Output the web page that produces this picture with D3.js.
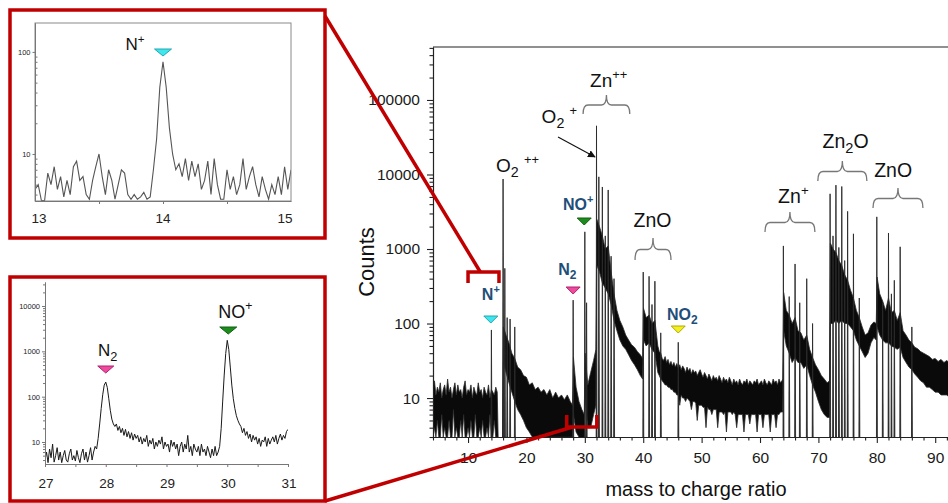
<!DOCTYPE html>
<html><head><meta charset="utf-8">
<script src="https://cdn.jsdelivr.net/npm/d3@7"></script>
<style>
body{margin:0;background:#fff}
svg{display:block}
text{font-family:"Liberation Sans",Arial,sans-serif}
</style>
</head><body>
<svg id="c" width="948" height="503"></svg>
<script>
// ---------------- DATA ----------------
// Main spectrum: dense noise band (lower / upper envelope)
const bandMass = [
 4,4.25,4.5,4.75,5,5.25,5.5,5.75,6,6.25,
 6.5,6.75,7,7.25,7.5,7.75,8,8.25,8.5,8.75,
 9,9.25,9.5,9.75,10,10.25,10.5,10.75,11,11.25,
 11.5,11.75,12,12.25,12.5,12.75,13,13.25,13.5,13.75,
 14,14.25,14.5,14.75,15,
 15.2,15.9,16.05,16.5,17,17.5,18,18.5,19,19.5,
 20,20.5,21,21.5,22,22.5,23,23.5,24,24.5,
 25,25.5,26,26.5,27,27.5,27.9,
 28.05,28.5,29,29.5,29.9,30.05,30.5,31,31.5,31.9,
 32.05,32.5,33,33.5,34,34.5,35,35.5,36,36.5,
 37,37.5,38,38.5,39,39.5,39.9,40.05,40.5,41,
 41.5,42,
 42.5,42.75,43,43.25,43.5,43.75,44,44.25,44.5,44.75,
 45,45.25,45.5,45.75,46,46.25,46.5,46.75,47,47.25,
 47.5,47.75,48,48.25,48.5,48.75,49,49.25,49.5,49.75,
 50,50.25,50.5,50.75,51,51.25,51.5,51.75,52,52.25,
 52.5,52.75,53,53.25,53.5,53.75,54,54.25,54.5,54.75,
 55,55.25,55.5,55.75,56,56.25,56.5,56.75,57,57.25,
 57.5,57.75,58,58.25,58.5,58.75,59,59.25,59.5,59.75,
 60,60.25,60.5,60.75,61,61.25,61.5,61.75,62,62.25,
 62.5,62.75,63,63.25,63.5,63.75,63.9,
 64.05,64.5,65,65.5,
 66,66.5,67,67.5,68,68.5,69,69.5,70,70.5,
 71,71.5,71.9,72.05,72.5,73,73.5,74,74.5,75,
 75.5,76,76.5,77,77.5,78,78.5,79,79.5,79.9,
 80.05,80.5,81,81.5,82,82.5,83,83.5,84,84.5,
 85,85.5,86,86.5,87,87.5,88,88.5,89,89.5,
 90,90.5,91,91.5,92,92.5,93,93.5,94,95,
 96,97,98,99,100];
const bandLow = [
 3,4,3,5,3,3,6,3,4,3,
 3,5,3,3,7,3,4,3,3,5,
 3,6,3,3,4,3,5,3,3,6,
 3,3,4,3,5,3,3,4,3,6,
 3,3,5,3,3,
 2,2,30,22,16,12,9,7,6,5,
 4,3.5,3,3,3,3,3,3,3,3,
 3,3,3,3,3,3,3,
 6,3.5,3,2.5,2.5,10,4,4,6,8,
 600,500,350,300,250,180,110,80,60,50,
 45,38,32,28,24,20,18,60,50,55,
 45,40,
 22,20,18,17,16,15,15,14,14,13,
 13,12,12,11,11,8,11,10,10,9,
 10,9.5,9,7,9,9,8.5,5,8,8,
 8,7.5,7.5,4,7.5,7,7,6,7,7,
 7,4,6.5,6.5,6.5,6,6.5,3.5,6.5,6.5,
 6.5,6,6.5,6,4,6,6,6,6,3.5,
 6,6,6,4.5,6,6,6,6,3.5,6,
 6,6,4,6,6,6,6,3.5,6,6,
 6,4,6,6,6.5,6.5,6.5,
 80,50,40,30,
 35,30,30,25,28,20,15,12,9,7,
 6,5.5,5.5,100,100,110,100,110,100,100,
 90,80,60,50,42,35,40,55,65,60,
 90,70,60,55,55,50,48,45,48,35,
 30,26,24,21,19,17,16,14,14,13,
 12,12,11,11,11,10,10,10,10,10,
 9.5,9.5,9,9,9];
const bandHigh = [
 13,17,11,14,12,16,10,13,15,11,
 18,12,14,10,13,16,11,15,12,13,
 10,14,17,11,13,12,15,10,14,12,
 11,16,12,13,10,14,12,11,15,10,
 13,12,11,14,12,
 2,2,90,70,55,40,34,26,24,20,
 19,15,16,13,14,12,13,11,13,10,
 12,10,11,9.5,11,9,8,
 35,14,9,7,6,40,15,22,32,45,
 2500,2000,1500,1000,1100,500,250,150,110,90,
 70,60,52,48,42,38,34,160,120,130,
 100,110,
 50,42,40,34,32,36,30,33,28,31,
 27,30,26,29,25,28,24,27,25,22,
 26,23,25,21,24,22,23,20,22,24,
 21,19,22,20,18,21,19,17,20,18,
 19,17,20,18,16,19,17,18,16,19,
 17,15,18,16,17,15,18,16,15,17,
 16,18,15,17,16,15,17,16,18,15,
 16,17,15,18,16,15,17,16,15,18,
 16,17,15,18,16,17,18,
 260,150,130,100,
 120,80,75,60,70,45,35,28,24,20,
 18,16,17,1200,1000,900,700,600,450,380,
 280,220,150,120,90,70,75,95,105,100,
 420,250,200,150,220,140,150,110,140,80,
 70,60,55,48,46,42,40,38,36,33,
 34,31,33,30,32,29,31,28,30,29,
 28,28,27,27,26];

// Main spectrum: individual peaks (m/z, counts)
const peakMass = [14,16,16.3,16.7,17.2,18, 28,30,30.3, 32,32.4,33,33.5,34,34.5,35,
  40,41,41.5,42,43, 46, 64,65,66,66.8,68,69, 72,72.5,73,73.5,74,74.5,75,76,77,
  80,81,82,82.5,83,84,86];
const peakCounts = [82,8700,550,120,115,90, 206,1700,190, 45000,9300,6800,1500,6200,800,400,
  490,430,180,370,75, 56, 1100,230,630,190,400,100, 5500,1500,7200,1050,6900,700,3200,1600,220,
  2700,190,1640,250,380,1070,90];

// Tick values
const mainXTicks = [10,20,30,40,50,60,70,80,90];
const mainYTicks = [10,100,1000,10000,100000];

// Inset 1 (N+ region, m/z 13-15), sampled every 0.025
const inset1Start = 13, inset1Step = 0.025;
const inset1Counts = [
 4.5,5,3.5,3.5,6.5,5,7.5,4.5,6,3.8,
 5.5,4,7.5,8.5,5.5,6,4,3.6,5.5,7.5,
 10,6,4,7,5.5,3.6,5,7,6.5,4,
 3.6,4,3.6,3.8,4.2,3.6,3.8,7,14,45,
 80,45,18,10,7,8,6,9,5.5,8.5,
 6,8,4.5,5.5,8.5,4,9,5,3.6,3.6,
 7,4.5,6,4,5,9,4.5,6,7.5,5,
 3.8,6,4.5,3.6,5,4,6,4,7.5,4.5,
 7];
const inset1XTicks = [13,14,15];
const inset1YTicks = [10,100];

// Inset 2 (N2 / NO+ region, m/z 27-31), sampled every 0.025
const inset2Start = 27, inset2Step = 0.025;
const inset2Counts = [
 4,6,3.5,7,4.5,9,3.6,5,7.5,4,
 6,3.5,5,6.5,4,3.6,5.5,7,4,5,
 3.8,6.5,4.5,3.5,5.5,7,4,6,3.6,5,
 7.5,4,6,8,7,12,25,55,110,180,
 210,160,90,50,32,25,22,25,18,22,
 16,20,14,19,13,17,12,16,11,15,
 12,14,10,13,9,12,10,14,8,11,
 9,12,7,10,8,11,9,13,7,10,
 8,9,6,11,8,10,7,9,5,8,
 10,6,9,7,14,6,8,5,9,7,
 6,8,5,9,6,7,5,8,6,4.5,
 7,5,8,5,6,8,20,80,300,900,
 1750,1100,450,180,90,55,38,30,25,22,
 16,20,14,17,12,15,10,14,11,13,
 9,12,8,11,10,13,8,12,9,11,
 13,10,14,9,12,15,11,14,12,17,
 19];
const inset2XTicks = [27,28,29,30,31];
const inset2YTicks = [10,100,1000,10000];

// ---------------- DRAW ----------------
const svg = d3.select("#c");
const RED = "#c00000", BLUE = "#1f4e79";
const defs = svg.append("defs");

// ---- main chart scales
const x = d3.scaleLinear().domain([4,100]).range([433, 993.6]);
const y = d3.scaleLog().domain([3, 514000]).range([437, 47]);
defs.append("clipPath").attr("id","mainclip").append("rect")
  .attr("x",433).attr("y",47).attr("width",520).attr("height",390);

const plot = svg.append("g").attr("clip-path","url(#mainclip)");
const band = d3.area()
  .x((d,i)=>x(bandMass[i]))
  .y0((d,i)=>y(bandLow[i]))
  .y1((d,i)=>y(bandHigh[i]));
plot.append("path").datum(bandMass).attr("d",band)
  .attr("fill","#0a0a0a").attr("stroke","#2a2a2a").attr("stroke-width",0.8);

plot.selectAll("path.pk").data(peakMass).enter().append("path").attr("class","pk")
  .attr("d",(m,i)=>`M${x(m-0.06)},${y(3)}L${x(m)},${y(peakCounts[i])}L${x(m+0.09)},${y(3)}Z`)
  .attr("fill","#151515").attr("stroke","#2a2a2a").attr("stroke-width",0.9);

// ---- main axes
const axisStyle = g => {
  g.selectAll("text").style("font-size","15.5px").attr("fill","#1a1a1a")
   .style("font-family","'Liberation Sans',Arial,sans-serif");
  g.selectAll("line,path").attr("stroke","#222").attr("stroke-width",1.1);
};
const yMinor = y.ticks().filter(v => !mainYTicks.includes(v));
svg.append("g").attr("transform","translate(433,0)")
  .call(d3.axisLeft(y).tickValues(yMinor).tickSize(3.5).tickFormat("").tickSizeOuter(0)).call(axisStyle);
svg.append("g").attr("transform","translate(433,0)")
  .call(d3.axisLeft(y).tickValues(mainYTicks).tickFormat(d3.format("d")).tickSize(6).tickPadding(7).tickSizeOuter(0))
  .call(axisStyle);
const xMinor = d3.range(4,101,2).filter(v => v % 10 !== 0);
svg.append("g").attr("transform","translate(0,437)")
  .call(d3.axisBottom(x).tickValues(xMinor.concat([100])).tickSize(3.5).tickFormat("").tickSizeOuter(0)).call(axisStyle);
svg.append("g").attr("transform","translate(0,437)")
  .call(d3.axisBottom(x).tickValues(mainXTicks).tickSize(6).tickPadding(9).tickSizeOuter(0))
  .call(axisStyle);
svg.append("line").attr("x1",433).attr("x2",948).attr("y1",47).attr("y2",47)
  .attr("stroke","#222").attr("stroke-width",1.1);

svg.append("text").attr("transform","translate(374,262) rotate(-90)")
  .attr("text-anchor","middle").style("font-size","22px").attr("fill","#111").text("Counts");
svg.append("text").attr("x",696).attr("y",496).attr("text-anchor","middle")
  .style("font-size","20px").attr("fill","#111").text("mass to charge ratio");

// ---- rich text helper
function rich(g, tx, ty, parts, size, opt={}) {
  const t = g.append("text").attr("x",tx).attr("y",ty).style("font-size",size+"px")
    .attr("fill",opt.fill||"#111").attr("text-anchor",opt.anchor||"start");
  if (opt.bold) t.style("font-weight","bold");
  let cur = 0;
  parts.forEach(([s,k])=>{
    const off = k==="sub" ? size*0.28 : k==="sup" ? -size*0.42 : 0;
    const ts = t.append("tspan").attr("dy", off-cur).text(s);
    if (k==="sub") ts.style("font-size",(size*0.75)+"px");
    if (k==="sup") ts.style("font-size",(size*0.68)+"px");
    cur = off;
  });
  return t;
}
function brace(g, m0, m1, yTip, yEnd) {
  const x0 = x(m0), x1 = x(m1), xm = (x0+x1)/2, yArm = (yTip+yEnd)/2 + 0.5, r = 5;
  g.append("path").attr("fill","none").attr("stroke","#777").attr("stroke-width",1.3)
    .attr("d",`M${x0},${yEnd}Q${x0},${yArm} ${x0+r},${yArm}L${xm-r},${yArm}Q${xm},${yArm} ${xm},${yTip}`+
              `Q${xm},${yArm} ${xm+r},${yArm}L${x1-r},${yArm}Q${x1},${yArm} ${x1},${yEnd}`);
}
function tri(g, cx, ty, w, h, fill, stroke) {
  g.append("path").attr("d",`M${cx-w/2},${ty}L${cx+w/2},${ty}L${cx},${ty+h}Z`)
    .attr("fill",fill).attr("stroke",stroke).attr("stroke-width",1);
}

// ---- main annotations
const ann = svg.append("g");
rich(ann, x(14.8), 172, [["O","n"],["2","sub"],["  ","n"],["++","sup"]], 19);
rich(ann, x(22.6), 123, [["O","n"],["2","sub"],["  ","n"],["+","sup"]], 19);
rich(ann, x(30.9), 87, [["Zn","n"],["++","sup"]], 19);
brace(ann, 29.7, 37.7, 95, 114);
rich(ann, x(41.6), 227, [["ZnO","n"]], 19.5, {anchor:"middle"});
brace(ann, 38.6, 44.75, 238, 260);
rich(ann, x(63.1), 203, [["Zn","n"],["+","sup"]], 19.5);
brace(ann, 60.85, 69.4, 212, 232);
rich(ann, x(70.7), 148, [["Zn","n"],["2","sub"],["O","n"]], 19.5);
brace(ann, 69.9, 78.3, 161, 181);
rich(ann, x(82.8), 177, [["ZnO","n"]], 19.5, {anchor:"middle"});
brace(ann, 79.35, 87.9, 188, 208);

// arrow to O2+
defs.append("marker").attr("id","arr").attr("viewBox","0 0 10 10").attr("refX",9).attr("refY",5)
  .attr("markerWidth",7).attr("markerHeight",7).attr("orient","auto")
  .append("path").attr("d","M0,0L10,5L0,10Z").attr("fill","#111");
ann.append("line").attr("x1",558).attr("y1",137).attr("x2",595).attr("y2",157)
  .attr("stroke","#111").attr("stroke-width",1.1).attr("marker-end","url(#arr)");

// species markers
rich(ann, x(28.85), 210, [["NO","n"],["+","sup"]], 16, {bold:true, fill:BLUE, anchor:"middle"});
tri(ann, x(29.9), 218, 14, 7, "#1c8c1c", "#106010");
rich(ann, x(27.0), 275, [["N","n"],["2","sub"]], 16, {bold:true, fill:BLUE, anchor:"middle"});
tri(ann, x(28), 287, 14, 7, "#ee4a9e", "#b02070");
rich(ann, x(13.9), 300, [["N","n"],["+","sup"]], 16, {bold:true, fill:BLUE, anchor:"middle"});
tri(ann, x(13.9), 316, 14, 7, "#3fe6ee", "#20a8b0");
rich(ann, x(46.7), 320, [["NO","n"],["2","sub"]], 16, {bold:true, fill:BLUE, anchor:"middle"});
tri(ann, x(46), 326, 14, 7, "#f2f020", "#b0a800");

// ---------------- INSET 1 ----------------
const in1 = svg.append("g");
in1.append("rect").attr("x",10).attr("y",10).attr("width",315).attr("height",228)
  .attr("fill","#fff").attr("stroke",RED).attr("stroke-width",3.5);
const x1 = d3.scaleLinear().domain([13,15]).range([35,291]);
const y1 = d3.scaleLog().domain([3.46,192]).range([201,23]);
defs.append("clipPath").attr("id","c1").append("rect").attr("x",35).attr("y",23).attr("width",256).attr("height",178);
in1.append("path").datum(inset1Counts).attr("clip-path","url(#c1)")
  .attr("d", d3.line().x((d,i)=>x1(inset1Start+i*inset1Step)).y(d=>y1(d)))
  .attr("fill","none").attr("stroke","#555").attr("stroke-width",1.1);
in1.append("rect").attr("x",35).attr("y",23).attr("width",256).attr("height",178)
  .attr("fill","none").attr("stroke","#8a8a8a").attr("stroke-width",1);
const small = g => { g.selectAll("line,path").attr("stroke","#777"); g.selectAll("text").attr("fill","#222"); };
in1.append("g").attr("transform","translate(35,0)")
  .call(d3.axisRight(y1).tickValues(y1.ticks().filter(v=>!inset1YTicks.includes(v))).tickSize(2.5).tickFormat("").tickSizeOuter(0)).call(small);
in1.append("g").attr("transform","translate(35,0)")
  .call(d3.axisLeft(y1).tickValues(inset1YTicks).tickSize(2.5).tickPadding(2).tickFormat(d3.format("d")).tickSizeOuter(0))
  .call(small).selectAll("text").style("font-size","7.5px");
in1.append("g").attr("transform","translate(0,201)")
  .call(d3.axisBottom(x1).tickValues([13.5,14,14.5]).tickSize(3).tickFormat("").tickSizeOuter(0)).call(small);
in1.selectAll("text.xl").data(inset1XTicks).enter().append("text").attr("class","xl")
  .attr("x",(d,i)=>x1(d)+(i===0?4:i===inset1XTicks.length-1?-6:0)).attr("y",223)
  .attr("text-anchor","middle").style("font-size","13.5px").attr("fill","#222").text(d=>d);
rich(in1, 135, 50, [["N","n"],["+","sup"]], 17, {anchor:"middle"});
tri(in1, x1(14), 49, 17, 7, "#3fe6ee", "#20a8b0");

// ---------------- INSET 2 ----------------
const in2 = svg.append("g");
in2.append("rect").attr("x",10).attr("y",277).attr("width",315).attr("height",224)
  .attr("fill","#fff").attr("stroke",RED).attr("stroke-width",3.5);
const x2 = d3.scaleLinear().domain([27,31]).range([45,288]);
const y2 = d3.scaleLog().domain([3.27,33900]).range([464,282]);
defs.append("clipPath").attr("id","c2").append("rect").attr("x",45).attr("y",282).attr("width",243).attr("height",182);
in2.append("path").datum(inset2Counts).attr("clip-path","url(#c2)")
  .attr("d", d3.line().x((d,i)=>x2(inset2Start+i*inset2Step)).y(d=>y2(d)))
  .attr("fill","none").attr("stroke","#1a1a1a").attr("stroke-width",1);
in2.append("g").attr("transform","translate(45,0)")
  .call(d3.axisLeft(y2).tickValues(y2.ticks().filter(v=>!inset2YTicks.includes(v))).tickSize(2).tickFormat("").tickSizeOuter(0)).call(small);
in2.append("g").attr("transform","translate(45,0)")
  .call(d3.axisLeft(y2).tickValues(inset2YTicks).tickSize(3).tickPadding(2).tickFormat(d3.format("d")).tickSizeOuter(0))
  .call(small).selectAll("text").style("font-size","7.5px");
in2.append("g").attr("transform","translate(0,464)")
  .call(d3.axisBottom(x2).tickValues([27,27.5,28,28.5,29,29.5,30,30.5,31]).tickSize(3).tickFormat("").tickSizeOuter(0)).call(small);
in2.selectAll("text.xl").data(inset2XTicks).enter().append("text").attr("class","xl")
  .attr("x",d=>x2(d)+1).attr("y",488).attr("text-anchor","middle")
  .style("font-size","13.5px").attr("fill","#222").text(d=>d);
rich(in2, x2(28)+2, 356, [["N","n"],["2","sub"]], 17, {anchor:"middle"});
tri(in2, x2(28), 366, 16, 7, "#ee4a9e", "#b02070");
rich(in2, x2(30)+8, 318, [["NO","n"],["+","sup"]], 18, {anchor:"middle"});
tri(in2, x2(30)+1, 327, 17, 7, "#1c8c1c", "#106010");

// ---------------- red zoom brackets and connectors ----------------
const red = svg.append("g").attr("fill","none").attr("stroke",RED).attr("stroke-width",3.5);
red.append("path").attr("d",`M${x(10)},283L${x(10)},272L${x(15.3)},272L${x(15.3)},283`);
red.append("line").attr("x1",x(12.1)).attr("y1",272).attr("x2",325).attr("y2",16);
red.append("path").attr("d",`M${x(26.9)},415L${x(26.9)},427L${x(32.05)},427L${x(32.05)},415`);
red.append("line").attr("x1",x(27.9)).attr("y1",427).attr("x2",325).attr("y2",501);
</script>
</body></html>
